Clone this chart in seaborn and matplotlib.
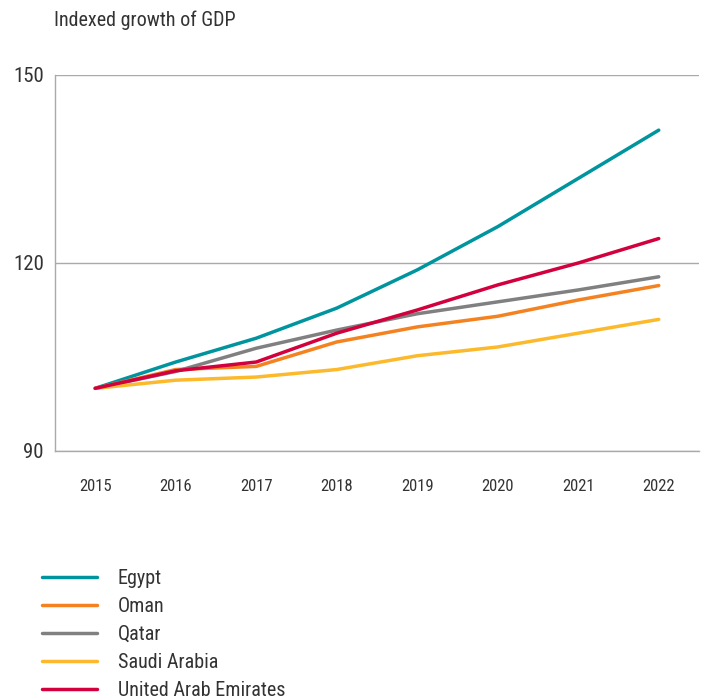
import matplotlib
matplotlib.use("Agg")
import matplotlib.pyplot as plt
import matplotlib.font_manager as fm
import seaborn as sns
import pandas as pd
from matplotlib.lines import Line2D
from matplotlib.ticker import FixedLocator

years = ["2015", "2016", "2017", "2018", "2019", "2020", "2021", "2022"]
egypt = [100, 104.2, 108.0, 112.8, 118.9, 125.8, 133.5, 141.2]
oman = [100, 103.0, 103.5, 107.4, 109.8, 111.5, 114.1, 116.4]
qatar = [100, 102.7, 106.4, 109.3, 111.9, 113.8, 115.7, 117.8]
saudi = [100, 101.3, 101.8, 103.0, 105.2, 106.6, 108.8, 111.0]
uae = [100, 102.8, 104.2, 108.8, 112.5, 116.5, 120.0, 123.9]

countries = ["Egypt", "Oman", "Qatar", "Saudi Arabia", "United Arab Emirates"]
series = [egypt, oman, qatar, saudi, uae]
colors = ["#00959E", "#F58220", "#808080", "#FDB92C", "#D2003C"]
yticks = [90, 120, 150]

rows = []
for c, vals in zip(countries, series):
    for y, v in zip(years, vals):
        rows.append({"Year": y, "Country": c, "Value": v})
df = pd.DataFrame(rows)
df["x"] = df["Year"].map({y: i for i, y in enumerate(years)})

sns.set_style("white")
names = {f.name for f in fm.fontManager.ttflist}
fam = "Liberation Sans Narrow" if "Liberation Sans Narrow" in names else "Roboto Condensed" if "Roboto Condensed" in names else "Liberation Sans"
plt.rcParams['font.family'] = [fam, 'DejaVu Sans']

fig = plt.figure(figsize=(7.12, 6.99), dpi=100)
ax = fig.add_axes([55/712, 1-451/699, (699-55)/712, (451-75)/699])

sns.lineplot(data=df, x="x", y="Value", hue="Country", hue_order=countries,
             palette=colors, linewidth=2.5, ax=ax, legend=False, sort=False)

ax.set_xlim(-0.5, 7.5)
ax.set_ylim(90, 150)
ax.set_xticks(range(len(years)))
ax.set_xticklabels(years, fontsize=12, color="#333333")
ax.xaxis.set_minor_locator(FixedLocator([i + 0.5 for i in range(len(years))]))
ax.tick_params(axis="x", which="major", length=0, pad=20)
ax.tick_params(axis="x", which="minor", direction="in", length=10, color="#aaaaaa", width=1)
ax.set_yticks(yticks)
ax.set_yticklabels([str(t) for t in yticks], fontsize=15, color="#333333")
ax.tick_params(axis="y", length=0, pad=8)
ax.yaxis.grid(True, color="#aaaaaa", linewidth=1)
ax.set_axisbelow(True)
for s in ["top", "right"]:
    ax.spines[s].set_visible(False)
for s in ["left", "bottom"]:
    ax.spines[s].set_color("#aaaaaa")
    ax.spines[s].set_linewidth(1)
ax.set_xlabel("")
ax.set_ylabel("")

fig.text(54/712, 1-20/699, "Indexed growth of GDP", fontsize=14.5, color="#333333", va="center", ha="left")

handles = [Line2D([0], [0], color=c, linewidth=2.5) for c in colors]
leg = fig.legend(handles, countries, loc="upper left", bbox_to_anchor=(24/712, 1-551/699),
                 frameon=False, fontsize=14.5, handlelength=2.7, handletextpad=1.05,
                 labelspacing=0.45, labelcolor="#333333")

fig.savefig("out.png", dpi=100)
